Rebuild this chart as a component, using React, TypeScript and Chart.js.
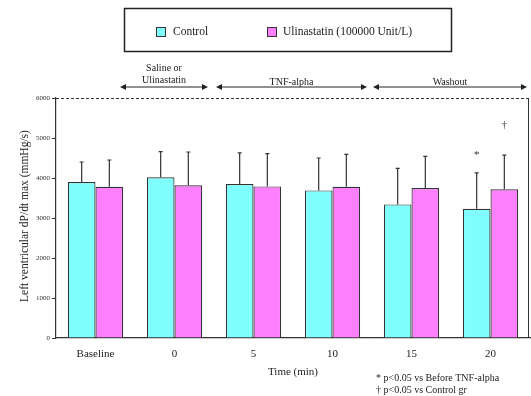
import React, { useEffect, useRef } from "react";
import { Chart, registerables } from "chart.js";

Chart.register(...registerables);

const categories = ["Baseline", "0", "5", "10", "15", "20"];
const controlValues = [3900, 4020, 3850, 3690, 3340, 3230];
const controlErrors = [500, 640, 780, 810, 900, 900];
const ulinValues = [3780, 3820, 3790, 3780, 3750, 3720];
const ulinErrors = [670, 830, 820, 810, 790, 850];
const controlMarks = ["", "", "", "", "", "*"];
const ulinMarks = ["", "", "", "", "", "†"];
const yTicks = [0, 1000, 2000, 3000, 4000, 5000, 6000];
const seriesNames = ["Control", "Ulinastatin (100000 Unit/L)"];
const phases = [
  { lines: ["Saline or", "Ulinastatin"], from: 120, to: 208 },
  { lines: ["TNF-alpha"], from: 216, to: 367 },
  { lines: ["Washout"], from: 373, to: 527 },
];
const footnotes = ["* p<0.05 vs Before TNF-alpha", "† p<0.05 vs Control gr"];

const SERIF = "'Liberation Serif', 'DejaVu Serif', serif";
const CYAN = "#80FFFF";
const MAGENTA = "#FF80FF";
const INK = "#333333";

const decorPlugin = {
  id: "decor",
  afterDatasetsDraw(chart: any) {
    const ctx = chart.ctx;
    const ca = chart.chartArea;
    const y = chart.scales.y;
    ctx.save();
    const errs = [controlErrors, ulinErrors];
    const marks = [controlMarks, ulinMarks];
    chart.data.datasets.forEach((ds: any, di: number) => {
      const meta = chart.getDatasetMeta(di);
      meta.data.forEach((bar: any, i: number) => {
        const top = y.getPixelForValue(ds.data[i]);
        const et = y.getPixelForValue(ds.data[i] + errs[di][i]);
        ctx.strokeStyle = INK;
        ctx.lineWidth = 1.2;
        ctx.beginPath();
        ctx.moveTo(bar.x, top);
        ctx.lineTo(bar.x, et);
        ctx.moveTo(bar.x - 2, et);
        ctx.lineTo(bar.x + 2, et);
        ctx.stroke();
        const m = marks[di][i];
        if (m) {
          ctx.fillStyle = INK;
          ctx.font = `11px ${SERIF}`;
          ctx.textAlign = "center";
          ctx.textBaseline = "middle";
          const off = m === "*" ? 18 : 30;
          ctx.fillText(m, bar.x, et - off);
        }
      });
    });
    ctx.strokeStyle = INK;
    ctx.lineWidth = 1.2;
    ctx.setLineDash([3, 2]);
    ctx.beginPath();
    ctx.moveTo(ca.left, ca.top + 0.5);
    ctx.lineTo(ca.right, ca.top + 0.5);
    ctx.stroke();
    ctx.setLineDash([]);
    ctx.lineWidth = 1;
    ctx.beginPath();
    ctx.moveTo(ca.right - 1.5, ca.top);
    ctx.lineTo(ca.right - 1.5, ca.bottom);
    ctx.stroke();

    ctx.lineWidth = 1.5;
    ctx.strokeStyle = "#222";
    ctx.strokeRect(124.5, 8.5, 327, 43);
    const sw = [
      { x: 156, color: CYAN, tx: 173 },
      { x: 267, color: MAGENTA, tx: 283 },
    ];
    ctx.font = `11.5px ${SERIF}`;
    ctx.textBaseline = "middle";
    ctx.textAlign = "left";
    sw.forEach((s, i) => {
      ctx.fillStyle = s.color;
      ctx.fillRect(s.x, 27, 10, 10);
      ctx.strokeStyle = INK;
      ctx.lineWidth = 1;
      ctx.strokeRect(s.x + 0.5, 27.5, 9, 9);
      ctx.fillStyle = "#222";
      ctx.fillText(seriesNames[i], s.tx, 32);
    });

    const ay = 87;
    ctx.strokeStyle = "#222";
    ctx.fillStyle = "#222";
    phases.forEach((p) => {
      ctx.lineWidth = 1;
      ctx.beginPath();
      ctx.moveTo(p.from + 4, ay);
      ctx.lineTo(p.to - 4, ay);
      ctx.stroke();
      ctx.beginPath();
      ctx.moveTo(p.from, ay);
      ctx.lineTo(p.from + 6, ay - 3);
      ctx.lineTo(p.from + 6, ay + 3);
      ctx.closePath();
      ctx.fill();
      ctx.beginPath();
      ctx.moveTo(p.to, ay);
      ctx.lineTo(p.to - 6, ay - 3);
      ctx.lineTo(p.to - 6, ay + 3);
      ctx.closePath();
      ctx.fill();
      ctx.font = `10px ${SERIF}`;
      ctx.textAlign = "center";
      ctx.textBaseline = "middle";
      const cx = (p.from + p.to) / 2;
      if (p.lines.length === 2) {
        ctx.fillText(p.lines[0], cx, 68);
        ctx.fillText(p.lines[1], cx, 80);
      } else {
        ctx.fillText(p.lines[0], cx, 82);
      }
    });

    ctx.font = `11px ${SERIF}`;
    ctx.textAlign = "center";
    ctx.textBaseline = "middle";
    ctx.fillText("Time (min)", 293, 372);
    ctx.save();
    ctx.translate(25, 216);
    ctx.rotate(-Math.PI / 2);
    ctx.font = `11.5px ${SERIF}`;
    ctx.fillText("Left ventricular dP/dt max (mmHg/s)", 0, 0);
    ctx.restore();

    ctx.font = `10px ${SERIF}`;
    ctx.textAlign = "left";
    ctx.fillText(footnotes[0], 376, 378);
    ctx.fillText(footnotes[1], 376, 390);
    ctx.restore();
  },
};

export default function App() {
  const ref = useRef<HTMLCanvasElement>(null);
  useEffect(() => {
    document.body.style.margin = "0";
    const chart = new Chart(ref.current as HTMLCanvasElement, {
      type: "bar",
      data: {
        labels: categories,
        datasets: [
          {
            label: seriesNames[0],
            data: controlValues,
            backgroundColor: CYAN,
            borderColor: INK,
            borderWidth: 1.2,
            categoryPercentage: 0.7,
            barPercentage: 1,
          },
          {
            label: seriesNames[1],
            data: ulinValues,
            backgroundColor: MAGENTA,
            borderColor: INK,
            borderWidth: 1.2,
            categoryPercentage: 0.7,
            barPercentage: 1,
          },
        ],
      },
      options: {
        responsive: false,
        animation: false,
        layout: { padding: { left: 16, right: 1, top: 98, bottom: 0 } },
        plugins: {
          legend: { display: false },
          tooltip: { enabled: false },
        },
        scales: {
          x: {
            grid: { display: false },
            border: { display: true, color: INK, width: 1.2 },
            ticks: {
              color: "#222",
              font: { family: SERIF, size: 11 },
              padding: 2,
              maxRotation: 0,
            },
            afterFit: (s: any) => {
              s.height = 58;
            },
          },
          y: {
            min: 0,
            max: 6000,
            afterBuildTicks: (s: any) => {
              s.ticks = yTicks.map((v) => ({ value: v }));
            },
            grid: {
              drawOnChartArea: false,
              drawTicks: true,
              tickLength: 4,
              color: INK,
            },
            border: { display: true, color: INK, width: 1.2 },
            ticks: {
              color: "#333",
              font: { family: SERIF, size: 7 },
              padding: 2,
              callback: (v: any) => String(v),
            },
            afterFit: (s: any) => {
              s.width = 40;
            },
          },
        },
      },
      plugins: [decorPlugin],
    });
    return () => chart.destroy();
  }, []);
  return <canvas ref={ref} width={531} height={396} />;
}
